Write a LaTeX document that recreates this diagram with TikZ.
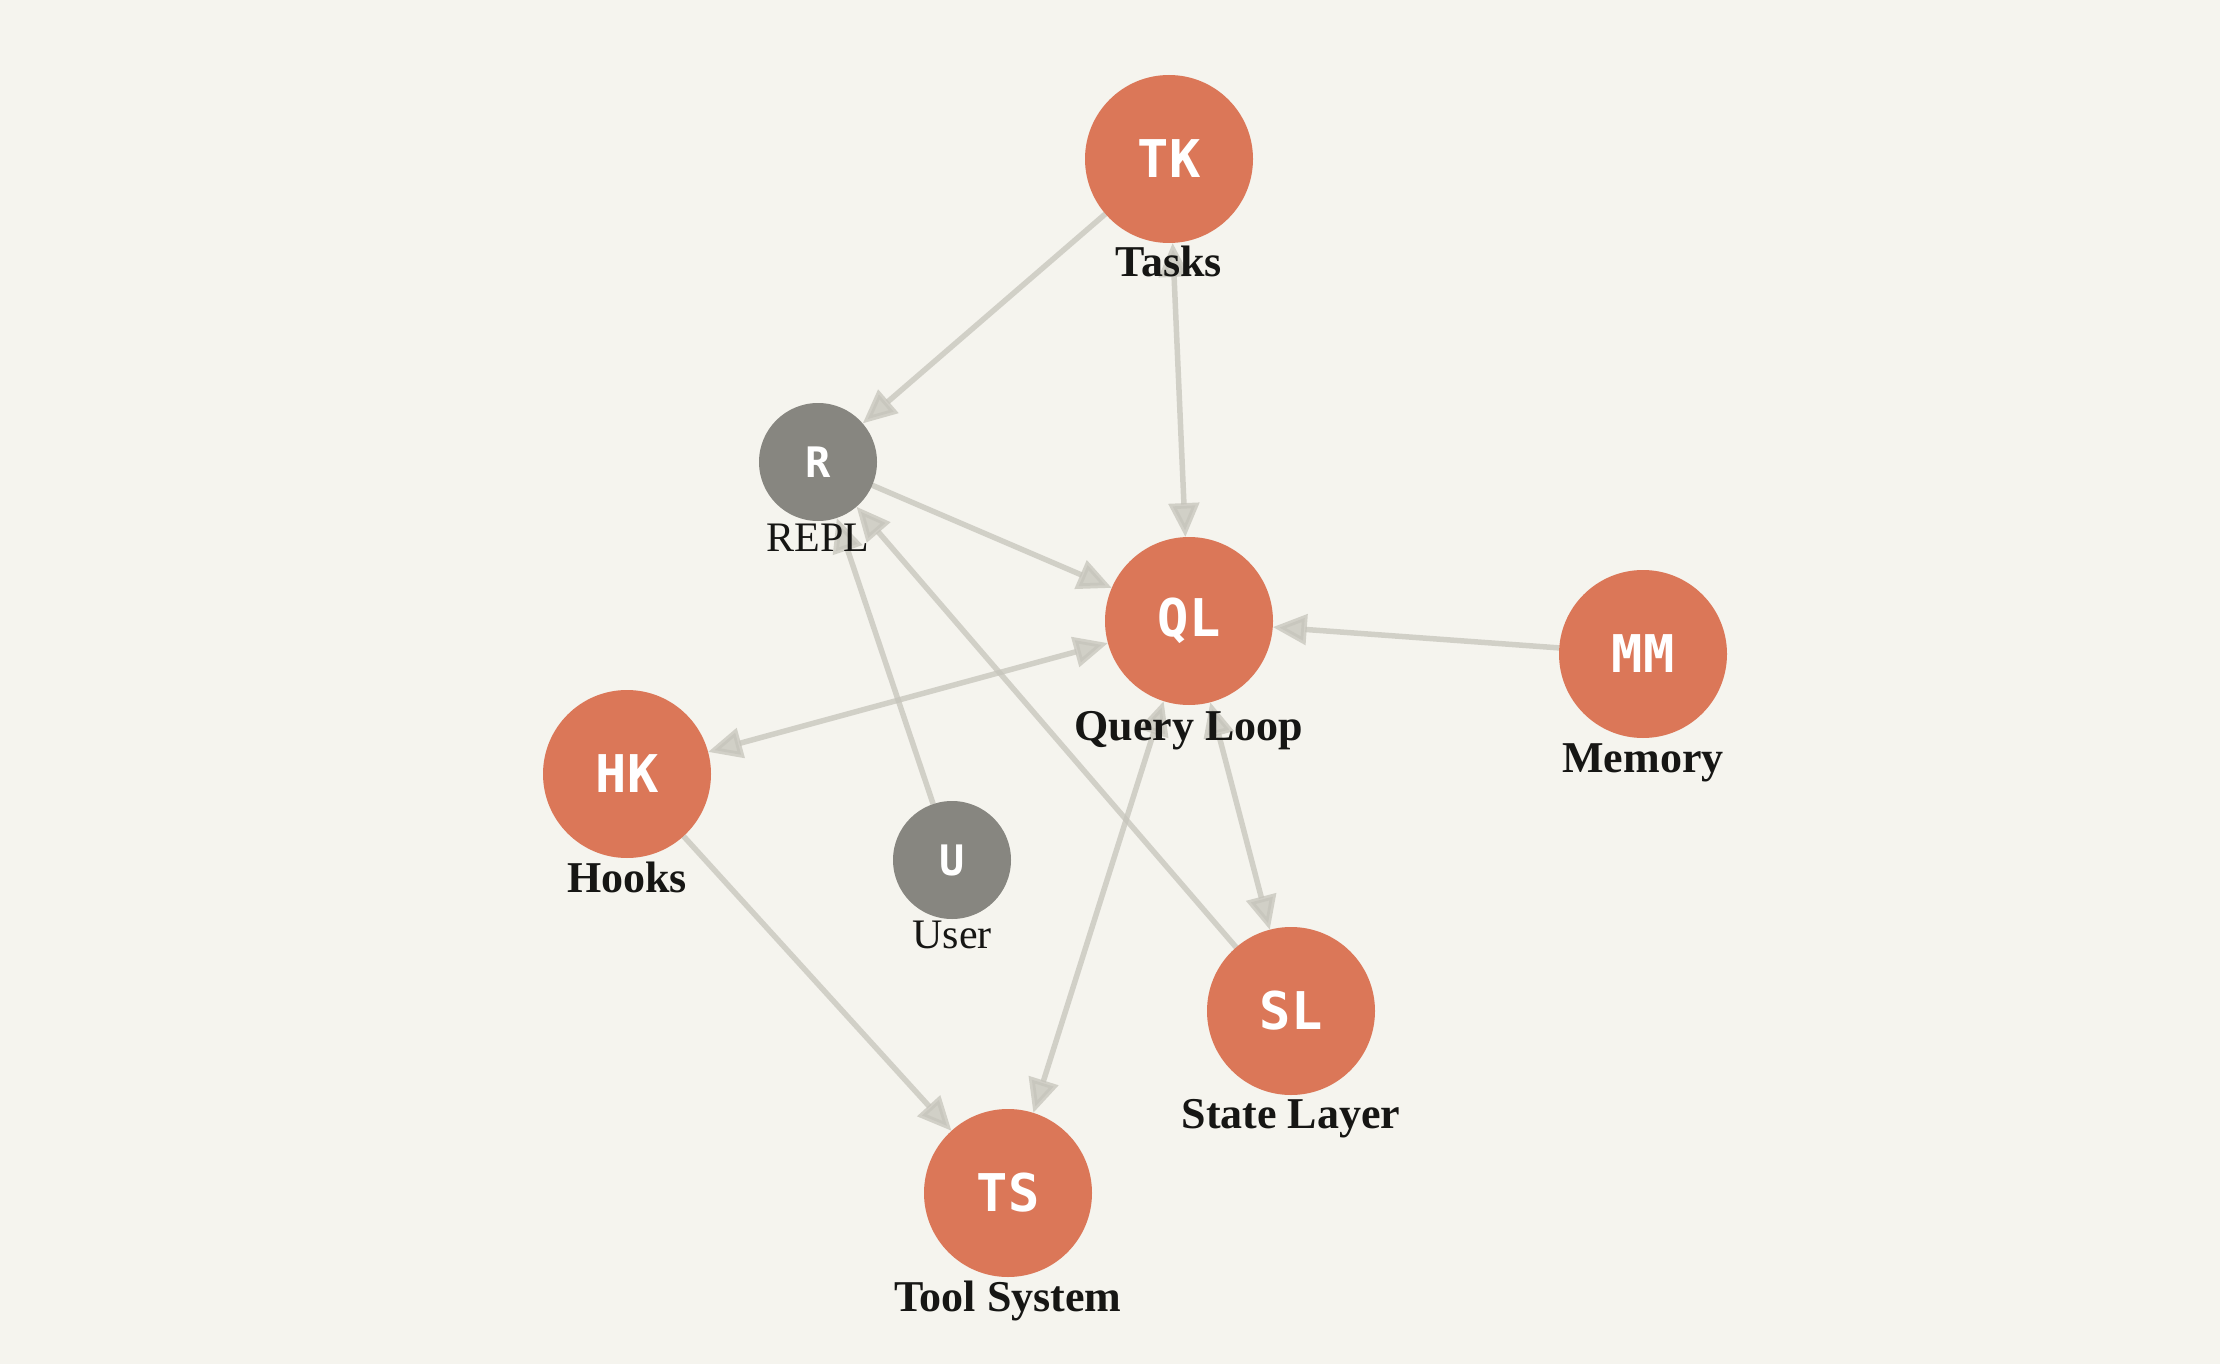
\documentclass[tikz,border=0pt]{standalone}
\usepackage{fontspec}
\setmainfont{Liberation Serif}
\newfontfamily\monofont{DejaVu Sans Mono}
\usetikzlibrary{arrows.meta,backgrounds}
\definecolor{bgc}{HTML}{F5F4EE}
\definecolor{orangec}{HTML}{DB7758}
\definecolor{grayc}{HTML}{878680}
\definecolor{edgec}{HTML}{C6C4BB}
\definecolor{textc}{HTML}{161614}
\tikzset{
  bignode/.style={circle,fill=orangec,minimum size=168pt,inner sep=0pt,outer sep=0pt,text=white,font=\monofont\bfseries\fontsize{52}{60}\selectfont},
  smallnode/.style={circle,fill=grayc,minimum size=118pt,inner sep=0pt,outer sep=0pt,text=white,font=\monofont\bfseries\fontsize{42}{50}\selectfont},
  biglabel/.style={anchor=base,text=textc,inner sep=0pt,font=\bfseries\fontsize{44}{52}\selectfont},
  smalllabel/.style={anchor=base,text=textc,inner sep=0pt,font=\fontsize{42}{50}\selectfont},
  tip/.style={Triangle[length=34pt,width=30pt,fill=edgec]},
  edge/.style={draw=edgec,line width=5.5pt,draw opacity=0.75,fill opacity=0.75,-{Triangle[length=34pt,width=30pt,fill=edgec]}},
  biedge/.style={draw=edgec,line width=5.5pt,draw opacity=0.75,fill opacity=0.75,{Triangle[length=34pt,width=30pt,fill=edgec]}-{Triangle[length=34pt,width=30pt,fill=edgec]}}
}
\begin{document}
\begin{tikzpicture}[x=1pt,y=-1pt]
\useasboundingbox (0,0) rectangle (2220,1364);
% nodes
\node[bignode] (TK) at (1169,159) {TK};
\node[smallnode] (R) at (818,462) {R};
\node[bignode] (QL) at (1189,621) {QL};
\node[bignode] (HK) at (627,774) {HK};
\node[smallnode] (U) at (952,860) {U};
\node[bignode] (SL) at (1291,1011) {SL};
\node[bignode] (TS) at (1008,1193) {TS};
\node[bignode] (MM) at (1643,654) {MM};
% labels
\node[biglabel] (lTK) at (1169,277) {Tasks};
\node[smalllabel] (lR) at (818,551) {REPL};
\node[biglabel] (lQL) at (1189,740) {Query Loop};
\node[biglabel] (lHK) at (627,892) {Hooks};
\node[smalllabel] (lU) at (952,948) {User};
\node[biglabel] (lSL) at (1291,1128) {State Layer};
\node[biglabel] (lTS) at (1008,1311) {Tool System};
\node[biglabel] (lMM) at (1643,772) {Memory};
% background and edges
\begin{scope}[on background layer]
\fill[bgc] (0,0) rectangle (2220,1364);
\draw[edge] (TK) -- (R);
\draw[biedge] (TK) -- (QL);
\draw[edge] (R) -- (QL);
\draw[biedge] (HK) -- (QL);
\draw[edge] (U) -- (R);
\draw[edge] (SL) -- (R);
\draw[biedge] (QL) -- (SL);
\draw[biedge] (QL) -- (TS);
\draw[edge] (HK) -- (TS);
\draw[edge] (MM) -- (QL);
\end{scope}
\end{tikzpicture}
\end{document}
